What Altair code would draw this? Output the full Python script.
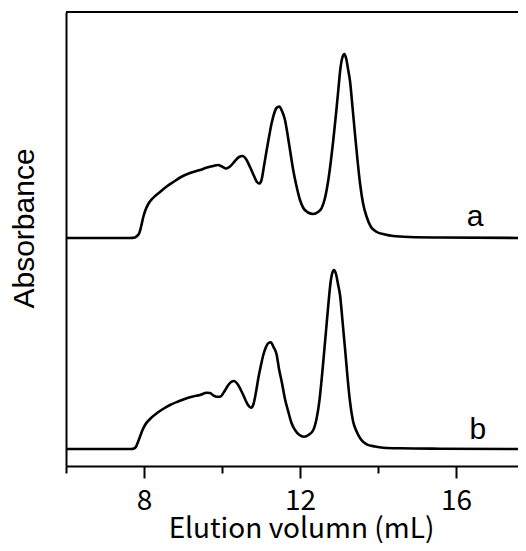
import altair as alt
import pandas as pd

# Curve a: elution volume (mL) and absorbance above its own baseline (arbitrary units)
a_x = [6.000, 7.641, 7.769, 7.821, 7.879, 7.923, 7.982, 8.038, 8.110, 8.231, 8.410, 8.564,
       8.751, 8.949, 9.179, 9.436, 9.615, 9.777, 9.897, 10.000, 10.103, 10.205, 10.333,
       10.436, 10.531, 10.615, 10.718, 10.821, 10.897, 10.956, 11.013, 11.077, 11.146,
       11.205, 11.274, 11.333, 11.397, 11.469, 11.538, 11.615, 11.679, 11.744, 11.821,
       11.915, 12.000, 12.085, 12.205, 12.341, 12.462, 12.556, 12.641, 12.726, 12.795,
       12.854, 12.923, 12.982, 13.038, 13.090, 13.136, 13.187, 13.236, 13.282, 13.346,
       13.410, 13.474, 13.538, 13.615, 13.710, 13.821, 13.967, 14.179, 14.392, 14.821,
       15.590, 17.795]
a_abs = [0, 0, 0.5, 2, 5, 11, 21, 28, 34, 40, 46, 51,
         56, 61, 65, 68, 70.5, 72, 73, 71.5, 69.5, 71.5, 77,
         81, 82, 79, 71, 62, 56, 54.5, 58, 72, 88,
         101, 115, 124, 130, 131.5, 127, 118, 104, 88, 69,
         51, 38, 30, 25.5, 24, 26, 30, 40, 58, 78,
         98, 124, 148, 170, 181, 184, 179, 168, 157, 131,
         104, 78, 55, 35, 21, 11, 6, 3.5, 2, 1,
         0.5, 0]

# Curve b
b_x = [6.000, 7.667, 7.744, 7.795, 7.846, 7.897, 7.962, 8.026, 8.154, 8.326, 8.487, 8.667,
       8.872, 9.095, 9.256, 9.436, 9.608, 9.692, 9.782, 9.864, 9.949, 10.051, 10.154,
       10.231, 10.308, 10.397, 10.505, 10.590, 10.667, 10.744, 10.808, 10.872, 10.931,
       11.000, 11.059, 11.128, 11.192, 11.249, 11.321, 11.403, 11.462, 11.531, 11.615,
       11.700, 11.782, 11.872, 11.987, 12.103, 12.218, 12.341, 12.423, 12.495, 12.551,
       12.597, 12.667, 12.726, 12.782, 12.828, 12.872, 12.923, 12.974, 13.026, 13.090,
       13.154, 13.218, 13.282, 13.359, 13.454, 13.564, 13.710, 13.923, 14.136, 14.564,
       15.590, 17.795]
b_abs = [0, 0, 0.5, 2.3, 7, 12.3, 19, 24, 30, 35.7, 40, 44,
         47.5, 50.7, 52.5, 54, 56.3, 56, 53.5, 52.3, 52.3, 57, 63.5,
         67, 68, 65, 57.3, 50, 44, 41.3, 45, 57, 70.7,
         84, 94, 102, 106, 106.7, 102, 94, 80, 67.3, 50,
         37.3, 26, 19, 14, 12.3, 14, 19, 30, 47.3, 68,
         87.3, 118, 144, 166, 176, 179, 175, 165, 154, 128,
         100.7, 72, 47.3, 28, 17.3, 9.5, 4.7, 2.5, 1.3, 0.7,
         0.3, 0]

offset_a = 228
offset_b = 17

label_text = ["a", "b"]
label_x = [16.49, 16.56]
label_y = [249, 36]

x_ticks = [6, 8, 10, 12, 14, 16]

rows = []
for x, v in zip(a_x, a_abs):
    rows.append({"x": x, "y": v + offset_a, "s": "a"})
for x, v in zip(b_x, b_abs):
    rows.append({"x": x, "y": v + offset_b, "s": "b"})
df = pd.DataFrame(rows)
lab = pd.DataFrame({"t": label_text, "x": label_x, "y": label_y})

W, H = 452, 454
xs = alt.Scale(domain=[6, 6 + W / 39], nice=False, zero=False)
ys = alt.Scale(domain=[0, 454], nice=False, zero=False)

xaxis = alt.Axis(
    values=x_ticks, title="Elution volumn (mL)", grid=False,
    labelExpr="datum.value % 4 === 0 ? datum.label : ''",
    tickSize={"condition": {"test": "datum.value % 4 === 0", "value": 12}, "value": 7},
    tickWidth=2, tickColor="black", domainWidth=2, domainColor="black",
    labelFont="Noto Sans CJK JP", labelFontSize=28, labelColor="black", labelPadding=9,
    titleFont="Noto Sans CJK JP", titleFontSize=28, titleFontWeight="normal",
    titleColor="black", titlePadding=0, titleX=235,
)
yaxis = alt.Axis(
    title="Absorbance", ticks=False, labels=False, grid=False,
    domainWidth=2, domainColor="black",
    titleFont="Liberation Sans", titleFontSize=30, titleFontWeight="normal",
    titleColor="black", titlePadding=27, titleY=216,
)

lines = alt.Chart(df).mark_line(color="black", strokeWidth=2.6, interpolate="monotone",
                                clip=True, strokeJoin="round", strokeCap="round").encode(
    x=alt.X("x:Q", scale=xs, axis=xaxis),
    y=alt.Y("y:Q", scale=ys, axis=yaxis),
    detail="s:N",
)

labels = alt.Chart(lab).mark_text(font="Liberation Sans", fontSize=30, color="black",
                                  align="center", baseline="middle").encode(
    x=alt.X("x:Q", scale=xs), y=alt.Y("y:Q", scale=ys), text="t:N"
)

top = alt.Chart(lab).mark_rule(color="black", strokeWidth=2).encode(
    x=alt.value(0), x2=alt.value(W), y=alt.value(0)
)

chart = alt.layer(lines, labels, top).properties(
    width=W, height=H,
    autosize=alt.AutoSizeParams(type="none"),
    padding={"left": 58, "top": 4, "right": 0, "bottom": 77},
).configure_view(stroke=None).configure(background="white")

chart.save("out.html", embed_options={"renderer": "svg", "actions": False})
